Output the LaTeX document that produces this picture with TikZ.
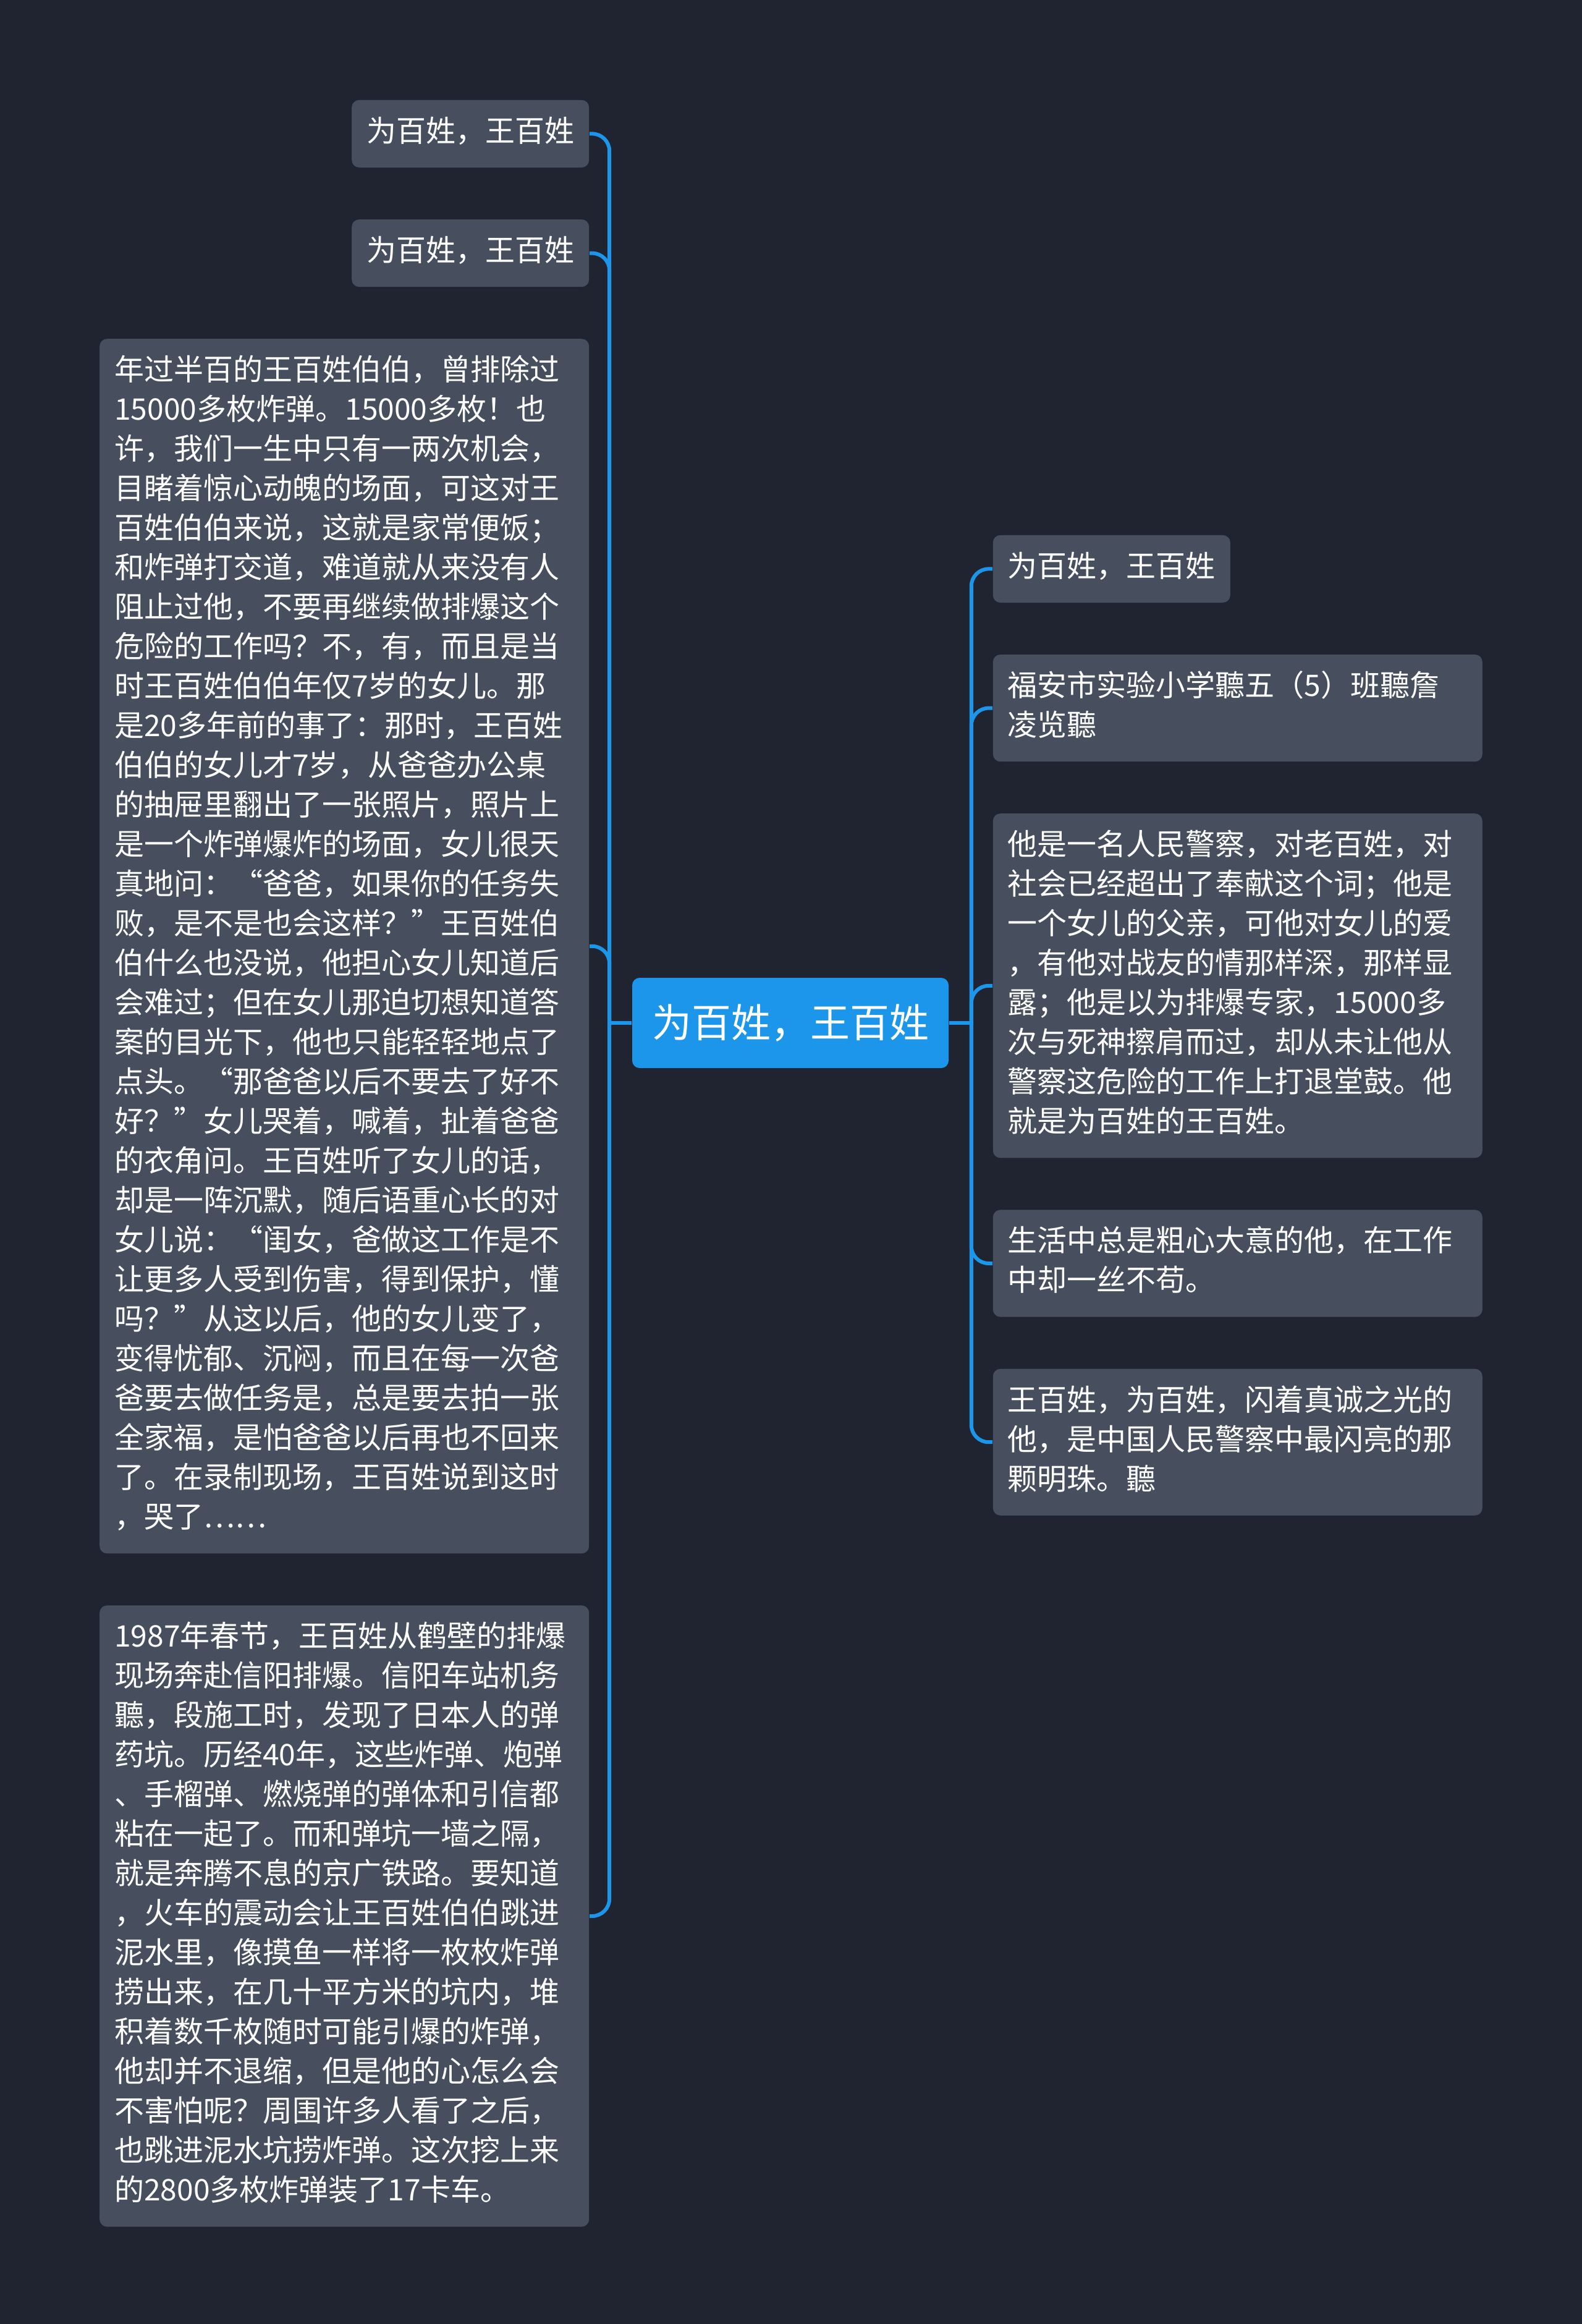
\documentclass[tikz,border=0pt]{standalone}
\usepackage{fontspec}
\setmainfont{Noto Sans CJK SC}
\usetikzlibrary{positioning}
\definecolor{bgdark}{RGB}{32,36,48}
\definecolor{topicgray}{RGB}{71,78,94}
\definecolor{rootblue}{RGB}{27,150,234}

\begin{document}
\begin{tikzpicture}[
 node distance=20.6pt and 17.5pt,
 topic/.style={fill=topicgray, text=white, rounded corners=3pt, inner xsep=6pt, inner ysep=5.65pt,
  font=\fontsize{12pt}{16pt}\selectfont, execute at begin node=\strut, execute at end node=\strut},
 para/.style={topic, align=left, text width=186pt},
 root/.style={fill=rootblue, text=white, rounded corners=3pt, inner xsep=8pt, minimum height=36.5pt,
  font=\fontsize{16pt}{20pt}\selectfont},
 link/.style={draw=rootblue, line width=1.5pt, rounded corners=7pt}]
\fill[bgdark] (0,0) rectangle (640pt,-940pt);
\node[root] (root) at (319.75pt,-413.75pt) {为百姓，王百姓};
\node[topic, anchor=north east] (l1) at (238.5pt,-40.25pt) {为百姓，王百姓};
\node[topic, below=of l1.south east, anchor=north east] (l2) {为百姓，王百姓};
\node[para, below=of l2.south east, anchor=north east] (l3) {年过半百的王百姓伯伯，曾排除过\\15000多枚炸弹。15000多枚！也\\许，我们一生中只有一两次机会，\\目睹着惊心动魄的场面，可这对王\\百姓伯伯来说，这就是家常便饭；\\和炸弹打交道，难道就从来没有人\\阻止过他，不要再继续做排爆这个\\危险的工作吗？不，有，而且是当\\时王百姓伯伯年仅7岁的女儿。那\\是20多年前的事了：那时，王百姓\\伯伯的女儿才7岁，从爸爸办公桌\\的抽屉里翻出了一张照片，照片上\\是一个炸弹爆炸的场面，女儿很天\\真地问：“爸爸，如果你的任务失\\败，是不是也会这样？”王百姓伯\\伯什么也没说，他担心女儿知道后\\会难过；但在女儿那迫切想知道答\\案的目光下，他也只能轻轻地点了\\点头。“那爸爸以后不要去了好不\\好？”女儿哭着，喊着，扯着爸爸\\的衣角问。王百姓听了女儿的话，\\却是一阵沉默，随后语重心长的对\\女儿说：“闺女，爸做这工作是不\\让更多人受到伤害，得到保护，懂\\吗？”从这以后，他的女儿变了，\\变得忧郁、沉闷，而且在每一次爸\\爸要去做任务是，总是要去拍一张\\全家福，是怕爸爸以后再也不回来\\了。在录制现场，王百姓说到这时\\，哭了……};
\node[para, below=of l3.south east, anchor=north east] (l4) {1987年春节，王百姓从鹤壁的排爆\\现场奔赴信阳排爆。信阳车站机务\\聽，段施工时，发现了日本人的弹\\药坑。历经40年，这些炸弹、炮弹\\、手榴弹、燃烧弹的弹体和引信都\\粘在一起了。而和弹坑一墙之隔，\\就是奔腾不息的京广铁路。要知道\\，火车的震动会让王百姓伯伯跳进\\泥水里，像摸鱼一样将一枚枚炸弹\\捞出来，在几十平方米的坑内，堆\\积着数千枚随时可能引爆的炸弹，\\他却并不退缩，但是他的心怎么会\\不害怕呢？周围许多人看了之后，\\也跳进泥水坑捞炸弹。这次挖上来\\的2800多枚炸弹装了17卡车。};
\node[topic, anchor=north west] (r1) at (401.5pt,-216.25pt) {为百姓，王百姓};
\node[para, below=of r1.south west, anchor=north west] (r2) {福安市实验小学聽五（5）班聽詹\\凌览聽};
\node[para, below=of r2.south west, anchor=north west] (r3) {他是一名人民警察，对老百姓，对\\社会已经超出了奉献这个词；他是\\一个女儿的父亲，可他对女儿的爱\\，有他对战友的情那样深，那样显\\露；他是以为排爆专家，15000多\\次与死神擦肩而过，却从未让他从\\警察这危险的工作上打退堂鼓。他\\就是为百姓的王百姓。};
\node[para, below=of r3.south west, anchor=north west] (r4) {生活中总是粗心大意的他，在工作\\中却一丝不苟。};
\node[para, below=of r4.south west, anchor=north west] (r5) {王百姓，为百姓，闪着真诚之光的\\他，是中国人民警察中最闪亮的那\\颗明珠。聽};
\coordinate[left=9pt of root] (ljoin);
\coordinate[right=9pt of root] (rjoin);
\draw[link] (root.west) -- (ljoin) (root.east) -- (rjoin);
\draw[link] (ljoin) |- (l1.east);
\draw[link] (ljoin) |- (l2.east);
\draw[link] (ljoin) |- (l3.east);
\draw[link] (ljoin) |- (l4.east);
\draw[link] (rjoin) |- (r1.west);
\draw[link] (rjoin) |- (r2.west);
\draw[link] (rjoin) |- (r3.west);
\draw[link] (rjoin) |- (r4.west);
\draw[link] (rjoin) |- (r5.west);
\end{tikzpicture}
\end{document}
